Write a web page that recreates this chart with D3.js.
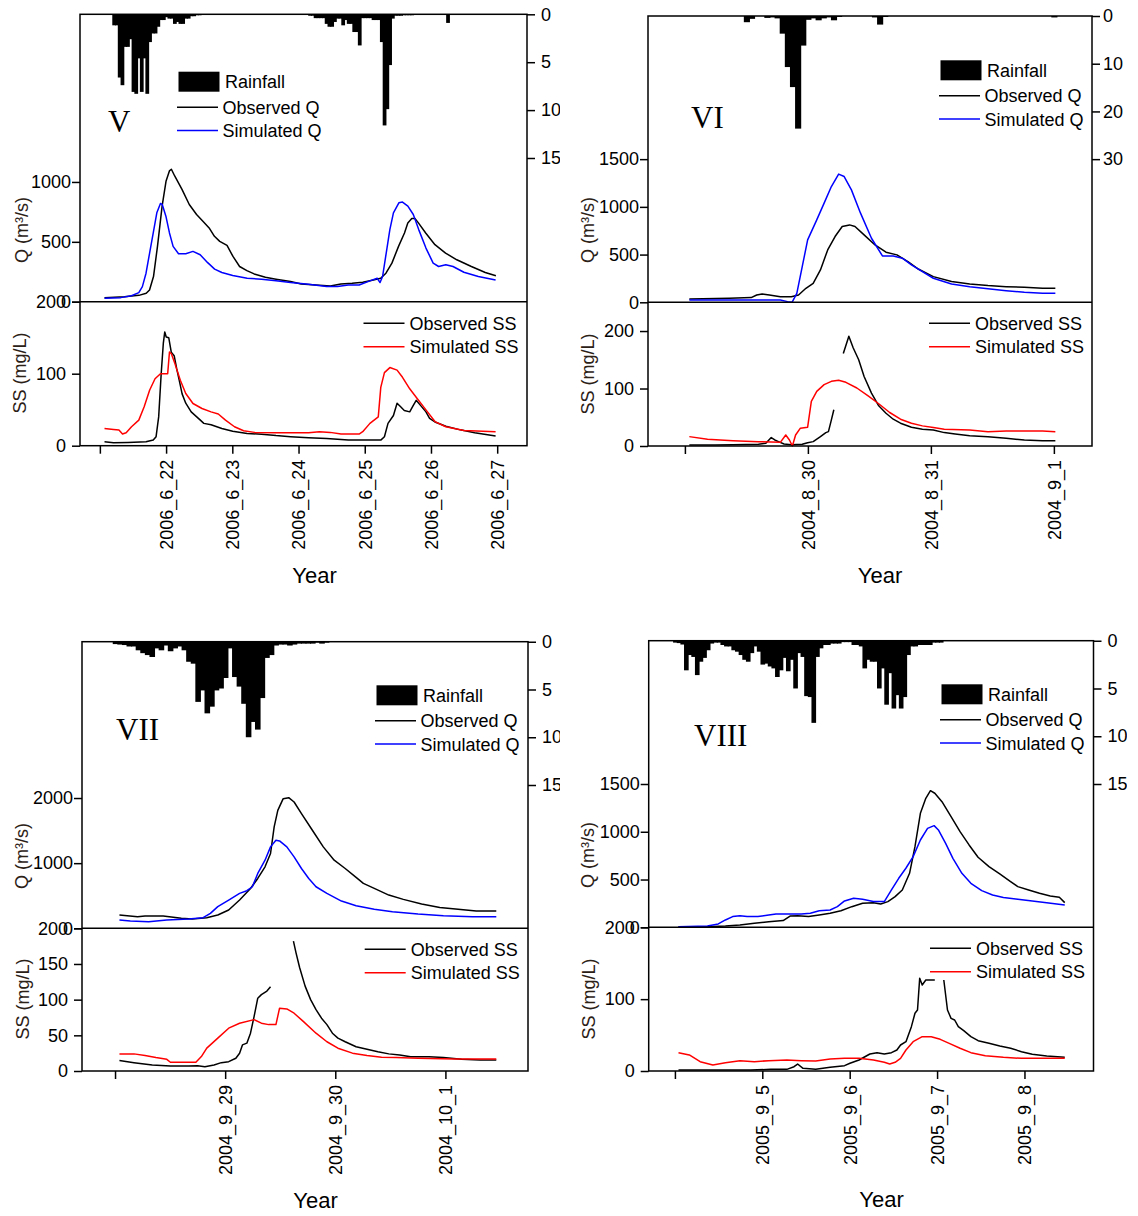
<!DOCTYPE html>
<html>
<head>
<meta charset="utf-8">
<script src="https://cdnjs.cloudflare.com/ajax/libs/d3/7.8.5/d3.min.js"></script>
<style>
  html, body { margin: 0; padding: 0; background: #fff; }
  svg { display: block; }
</style>
</head>
<body>
<svg id="chart" width="1138" height="1216"></svg>
<script>
// ---------------- Event V : June 2006 ----------------
// x values are days after the first (unlabelled) date tick
const datesV = ["", "2006_6_22", "2006_6_23", "2006_6_24", "2006_6_25", "2006_6_26", "2006_6_27"];
const qTicksV = [0, 500, 1000];
const rainTicksV = [0, 5, 10, 15];
const ssTicksV = [0, 100, 200];
// hourly rainfall (mm), runs of consecutive hours
const rainV = [
  { from: 5, mm: [1.15, 1.15, 6.6, 7.4, 3.4, 3.4, 2.6, 8.1, 8.3, 4.6, 8.1, 4.6, 8.3, 2.9, 2.0, 2.0, 1.3, 0.6, 0.6, 0.3, 0.45, 0.45, 1.0, 0.8, 1.0, 1.0, 0.45, 0.45, 0.2, 0.2, 0.1, 0.1] },
  { from: 76, mm: [0.15, 0.15, 0.4, 0.4, 0.4, 0.4, 1.0, 1.3, 1.3, 0.8, 0.45, 0.45, 1.15, 0.6, 1.0, 1.0, 1.85, 1.85, 3.25, 0.4, 0.4, 0.4, 0.4, 0.6, 0.6, 0.6, 2.9, 11.6, 9.9, 5.3, 0.45, 0.15, 0.15, 0.15, 0.1, 0.1, 0.1, 0.1] },
  { from: 126, mm: [0.9] }
];
const obsQV = [[0.07,34],[0.37,42],[0.59,53],[0.70,70],[0.75,98],[0.81,210],[0.87,462],[0.94,798],[1.00,1008],[1.05,1092],[1.08,1106],[1.13,1050],[1.24,938],[1.35,812],[1.46,728],[1.57,664],[1.65,616],[1.73,546],[1.81,504],[1.92,470],[2.01,378],[2.11,294],[2.22,260],[2.33,232],[2.50,204],[2.66,188],[2.88,168],[3.04,148],[3.26,140],[3.48,132],[3.64,148],[3.81,154],[3.97,162],[4.13,182],[4.24,196],[4.32,238],[4.41,322],[4.51,462],[4.60,574],[4.65,658],[4.71,694],[4.76,694],[4.81,658],[4.92,574],[5.06,476],[5.22,406],[5.39,350],[5.61,294],[5.82,244],[5.98,216]];
const simQV = [[0.07,28],[0.315,34],[0.478,50],[0.588,76],[0.642,126],[0.697,238],[0.751,406],[0.806,574],[0.860,742],[0.915,820],[0.942,812],[0.997,714],[1.051,574],[1.106,462],[1.188,400],[1.297,400],[1.406,420],[1.515,392],[1.624,328],[1.733,272],[1.842,244],[2.006,218],[2.224,196],[2.442,188],[2.660,174],[2.879,160],[3.151,146],[3.424,126],[3.588,126],[3.751,140],[3.915,140],[4.078,174],[4.188,196],[4.231,160],[4.269,210],[4.324,406],[4.379,602],[4.433,742],[4.515,826],[4.570,832],[4.651,798],[4.733,728],[4.815,602],[4.924,448],[5.033,322],[5.115,294],[5.224,308],[5.333,294],[5.497,246],[5.715,210],[5.976,182]];
const obsSSV = [[0.07,5.5],[0.206,4.2],[0.424,4.6],[0.697,5.5],[0.806,7.8],[0.849,12.5],[0.888,40],[0.926,100],[0.958,142],[0.980,158],[1.002,151],[1.040,150],[1.078,130],[1.122,125],[1.160,107],[1.198,91],[1.242,72],[1.297,59],[1.379,47],[1.488,38],[1.570,31],[1.679,29],[1.842,24],[2.006,20],[2.224,17],[2.442,16],[2.660,14],[2.879,12.5],[3.151,11],[3.424,10],[3.751,7.8],[3.969,7.8],[4.242,7.8],[4.297,12.5],[4.351,31],[4.433,42],[4.488,59],[4.542,54],[4.597,49],[4.679,47],[4.733,56],[4.777,63],[4.842,56],[4.924,47],[4.979,38],[5.060,33],[5.224,27],[5.442,22],[5.660,18],[5.976,13.4]];
const simSSV = [[0.07,24],[0.206,22.6],[0.288,21.7],[0.342,16.2],[0.397,18],[0.478,26.3],[0.588,35.5],[0.669,54],[0.751,77],[0.833,93],[0.915,100],[0.997,100],[1.024,100],[1.051,130],[1.078,128],[1.133,114],[1.215,91],[1.297,72.5],[1.406,58.6],[1.542,51.7],[1.679,47],[1.788,44],[1.897,35.5],[2.033,26.3],[2.170,20.8],[2.333,18.5],[2.660,18],[3.151,18],[3.315,19.4],[3.478,18.5],[3.642,16.2],[3.915,16.2],[3.969,19.4],[4.078,31],[4.204,40],[4.242,81],[4.297,101.5],[4.379,108.5],[4.488,105],[4.570,95],[4.679,79],[4.788,66],[4.924,49.8],[5.060,33.5],[5.224,26.3],[5.497,21],[5.976,19.4]];

// ---------------- Event VI : August 2004 ----------------
const datesVI = ["", "2004_8_30", "2004_8_31", "2004_9_1"];
const qTicksVI = [0, 500, 1000, 1500];
const rainTicksVI = [0, 10, 20, 30];
const ssTicksVI = [0, 100, 200];
const rainVI = [
  { from: 12, mm: [1.3, 0.6, 0, 0, 0.4, 0.3, 0.5, 3.7, 10.7, 14.9, 23.6, 6.2, 0.8, 0.5, 0.9, 0.5, 0.3, 0.9, 0.2] },
  { from: 37, mm: [0.3, 1.8, 0.2] },
  { from: 72, mm: [0.3] }
];
const obsQVI = [[0.036,35],[0.362,42],[0.539,49],[0.584,77],[0.628,87],[0.687,77],[0.776,59],[0.865,59],[0.924,77],[0.984,147],[1.043,199],[1.102,339],[1.161,549],[1.221,689],[1.279,794],[1.339,811],[1.383,794],[1.457,706],[1.546,601],[1.635,525],[1.724,497],[1.813,427],[1.901,346],[2.020,269],[2.168,217],[2.316,192],[2.464,175],[2.612,164],[2.760,157],[2.908,147],[3.012,147]];
const simQVI = [[0.036,24],[0.539,24],[0.776,24],[0.835,7],[0.871,0],[0.910,94],[0.954,374],[0.998,654],[1.072,864],[1.132,1039],[1.191,1213],[1.250,1343],[1.295,1318],[1.354,1178],[1.428,934],[1.517,671],[1.606,486],[1.694,486],[1.768,462],[1.842,392],[1.931,322],[2.020,252],[2.168,192],[2.316,164],[2.464,143],[2.612,122],[2.760,105],[2.908,94],[3.012,94]];
const obsSSVIa = [[0.036,1.7],[0.243,1.7],[0.391,2.3],[0.598,2.9],[0.658,4.7],[0.702,14.6],[0.731,10.5],[0.761,7.6],[0.806,3.5],[0.865,2.3],[0.954,2.9],[0.998,5.8],[1.043,7.6],[1.102,16.3],[1.146,23.3],[1.167,25],[1.191,45.5],[1.211,63]];
const obsSSVIb = [[1.288,161],[1.333,191],[1.368,171],[1.413,150],[1.457,121],[1.517,92],[1.576,70],[1.635,57],[1.694,46.6],[1.753,39.7],[1.842,32.7],[1.931,29.2],[2.020,28],[2.109,23.3],[2.197,21],[2.316,18],[2.464,16.3],[2.612,13.4],[2.760,10.5],[2.908,9.3],[3.012,9.3]];
const simSSVI = [[0.036,16.3],[0.184,11.7],[0.391,9.3],[0.598,7.6],[0.776,6.4],[0.820,19.2],[0.850,10.5],[0.874,0],[0.900,19.2],[0.939,31],[0.998,32.7],[1.028,77.6],[1.072,95],[1.132,106.7],[1.191,112.5],[1.250,114.3],[1.309,110.8],[1.398,100.9],[1.487,87.5],[1.576,73.5],[1.665,58.3],[1.753,46.6],[1.842,39.7],[1.931,35],[2.020,32],[2.109,29.2],[2.316,28],[2.464,25],[2.612,26.2],[2.760,26.2],[2.908,26.2],[3.012,25]];

// ---------------- Event VII : September 2004 ----------------
const datesVII = ["", "2004_9_29", "2004_9_30", "2004_10_1"];
const qTicksVII = [0, 1000, 2000];
const rainTicksVII = [0, 5, 10, 15];
const ssTicksVII = [0, 50, 100, 150, 200];
const rainVII = [
  { from: 0, mm: [0.25, 0.3, 0.35, 0.5, 0.5, 0.9, 1.2, 1.4, 1.6, 0.7, 0.9, 0.4, 1.0, 0.7, 0.5, 0.9, 2.1, 2.3, 6.3, 5.1, 7.5, 6.8, 5.1, 4.9, 3.8, 0.7, 3.7, 4.7, 6.5, 10.0, 8.4, 9.2, 5.9, 1.7, 1.4, 0.4, 0.3, 0.3, 0.4, 0.3, 0.2, 0.2, 0.2, 0.2, 0.1, 0.2, 0.1] }
];
const obsQVII = [[0.040,204],[0.205,179],[0.272,189],[0.437,189],[0.602,153],[0.701,143],[0.833,163],[0.933,204],[1.032,281],[1.131,434],[1.230,612],[1.296,765],[1.362,944],[1.412,1148],[1.445,1556],[1.478,1811],[1.527,1990],[1.577,2005],[1.626,1939],[1.693,1760],[1.792,1505],[1.891,1250],[1.990,1046],[2.090,918],[2.189,781],[2.255,689],[2.354,612],[2.486,510],[2.618,444],[2.784,372],[2.949,321],[3.115,291],[3.280,265],[3.462,265]];
const simQVII = [[0.040,128],[0.139,112],[0.305,102],[0.470,128],[0.668,143],[0.800,163],[0.866,230],[0.933,332],[1.032,434],[1.131,536],[1.197,577],[1.247,638],[1.296,842],[1.362,1046],[1.412,1250],[1.461,1352],[1.494,1342],[1.560,1250],[1.626,1097],[1.693,918],[1.759,765],[1.825,638],[1.924,536],[2.056,418],[2.189,347],[2.354,291],[2.519,255],[2.751,219],[2.982,194],[3.246,179],[3.462,179]];
const obsSSVIIa = [[0.040,14.6],[0.172,11.7],[0.338,8.5],[0.503,7.0],[0.668,7.0],[0.750,7.5],[0.816,6.1],[0.899,8.5],[0.965,11.7],[1.032,13.1],[1.097,17.8],[1.131,24.9],[1.157,36.6],[1.197,39],[1.230,53],[1.263,76.5],[1.296,102],[1.329,107],[1.379,112],[1.412,118]];
const obsSSVIIb = [[1.620,182],[1.643,166],[1.676,145],[1.726,119],[1.776,100],[1.825,86],[1.875,74],[1.924,65],[1.974,53],[2.024,46],[2.090,41],[2.189,34],[2.288,30.5],[2.387,27],[2.486,24],[2.585,22.5],[2.684,20],[2.850,20],[2.982,18.8],[3.147,16.4],[3.313,15.5],[3.462,15.5]];
const simSSVII = [[0.040,24],[0.172,24],[0.272,21.6],[0.371,18.8],[0.470,16.4],[0.503,12.2],[0.602,12.2],[0.734,12.2],[0.784,20.2],[0.833,32],[0.933,46],[1.032,60],[1.131,67],[1.263,72],[1.329,67],[1.395,65],[1.461,65],[1.494,88],[1.560,87],[1.626,81],[1.709,69.5],[1.825,53],[1.924,41],[2.024,32],[2.156,25],[2.288,21.6],[2.420,19.2],[2.552,18.8],[2.751,17.8],[3.081,16.9],[3.462,16.9]];

// ---------------- Event VIII : September 2005 ----------------
const datesVIII = ["", "2005_9_5", "2005_9_6", "2005_9_7", "2005_9_8"];
const qTicksVIII = [0, 500, 1000, 1500];
const rainTicksVIII = [0, 5, 10, 15];
const ssTicksVIII = [0, 100, 200];
const rainVIII = [
  { from: 0, mm: [0.2, 0.25, 0.4, 3.1, 1.5, 1.7, 3.6, 2.2, 1.8, 1.0, 0.3, 0.2, 0.2, 0.45, 0.6, 0.6, 1.0, 1.15, 1.5, 2.0, 2.2, 1.3, 0.6, 1.15, 2.5, 2.4, 2.7, 2.9, 3.8, 3.1, 1.8, 3.2, 2.0, 5.0, 1.3, 1.7, 5.8, 5.9, 8.6, 1.7, 0.8, 0.45, 0.45, 0.3, 0.3, 0.3, 0.15, 0.15, 0.15, 0.45, 0.45, 0.6, 2.9, 2.0, 2.2, 2.2, 5.0, 2.9, 6.7, 3.4, 7.1, 5.7, 7.1, 5.9, 1.5, 0.6, 0.6, 0.45, 0.45, 0.45, 0.45, 0.2, 0.2, 0.2] }
];
const obsQVIII = [[0.041,7],[0.372,7],[0.578,14],[0.744,24],[0.909,42],[1.074,59],[1.239,70],[1.322,119],[1.404,122],[1.529,112],[1.652,129],[1.776,147],[1.900,174],[2.024,216],[2.148,251],[2.271,258],[2.355,244],[2.437,269],[2.520,321],[2.602,391],[2.685,565],[2.747,844],[2.809,1193],[2.871,1350],[2.924,1430],[2.974,1403],[3.056,1315],[3.160,1158],[3.263,1001],[3.366,862],[3.469,733],[3.594,635],[3.717,558],[3.841,478],[3.924,426],[4.048,391],[4.172,356],[4.295,328],[4.399,314],[4.461,258]];
const simQVIII = [[0.041,7],[0.372,14],[0.496,35],[0.578,77],[0.661,112],[0.744,122],[0.826,112],[0.950,112],[1.074,129],[1.157,140],[1.281,140],[1.446,140],[1.549,147],[1.652,174],[1.776,181],[1.859,216],[1.941,276],[2.045,304],[2.148,293],[2.271,269],[2.396,269],[2.478,391],[2.561,513],[2.643,618],[2.726,740],[2.809,914],[2.891,1036],[2.966,1064],[3.015,1019],[3.098,879],[3.181,722],[3.284,565],[3.387,461],[3.511,384],[3.635,338],[3.759,311],[3.924,293],[4.089,276],[4.254,258],[4.461,234]];
const obsSSVIIIa = [[0.041,1.4],[0.454,1.4],[0.867,1.4],[1.095,2.3],[1.281,2.3],[1.363,6.0],[1.404,9.7],[1.466,3.7],[1.611,2.3],[1.776,5.1],[1.941,7.4],[2.003,10.7],[2.107,15.3],[2.231,23.7],[2.313,25.5],[2.396,23.7],[2.478,25.5],[2.540,29.2],[2.582,36.2],[2.644,40.8],[2.706,61.7],[2.747,80.3],[2.776,84.9],[2.801,129],[2.830,119.7],[2.871,126.7],[2.933,126.7],[2.974,126.7]];
const obsSSVIIIb = [[3.077,126.7],[3.119,84.9],[3.160,73.3],[3.201,71],[3.243,61.7],[3.305,56.1],[3.387,47.8],[3.470,42.2],[3.594,38.5],[3.718,34.8],[3.842,31.6],[3.966,26.9],[4.089,23.2],[4.255,20.9],[4.461,19]];
const simSSVIII = [[0.041,25.5],[0.165,22.3],[0.289,13],[0.434,8.4],[0.578,11.6],[0.744,14.4],[0.909,13],[1.074,14.4],[1.281,15.3],[1.446,14.4],[1.611,13.9],[1.776,16.7],[1.941,17.6],[2.107,17.6],[2.272,15.3],[2.396,12.1],[2.458,9.7],[2.520,12.1],[2.582,17.6],[2.644,29.2],[2.726,40.8],[2.830,47.8],[2.933,47.8],[3.036,44.1],[3.139,38.5],[3.263,31.6],[3.387,25.5],[3.552,21.3],[3.759,19],[3.966,17.6],[4.172,17.6],[4.461,17.6]];

// ---------------- layout of the four event panels ----------------
const panels = [
  { id: "V", label: "V", frame: { l: 80, r: 527, t: 14.3, m: 301.7, b: 445.7 }, days: [-0.3, 6.45],
    dates: datesV, rain: rainV, rainMax: 30, rainTicks: rainTicksV, qMax: 2400, qTicks: qTicksV,
    ssMax: 200, ssTicks: ssTicksV, obsQ: obsQV, simQ: simQV, obsSS: [obsSSV], simSS: simSSV,
    clipR: 560, rPad: 6, legQ: { x: 177, y: 81.7 }, legSS: { x: 363.5, y: 323.3 },
    numeral: { x: 108, y: 131.7 }, qTitle: { x: 22, y: 230 }, ssTitle: { x: 20, y: 373 }, year: { x: 314.5, y: 575 } },
  { id: "VI", label: "VI", frame: { l: 648, r: 1092, t: 16, m: 302.3, b: 446 }, days: [-0.3, 3.31],
    dates: datesVI, rain: rainVI, rainMax: 60, rainTicks: rainTicksVI, qMax: 3000, qTicks: qTicksVI,
    ssMax: 250, ssTicks: ssTicksVI, obsQ: obsQVI, simQ: simQVI, obsSS: [obsSSVIa, obsSSVIb], simSS: simSSVI,
    clipR: 1127, rPad: 3, legQ: { x: 939, y: 70.3 }, legSS: { x: 929, y: 323.3 },
    numeral: { x: 691, y: 128.3 }, qTitle: { x: 588, y: 230 }, ssTitle: { x: 588, y: 374 }, year: { x: 880, y: 575 } },
  { id: "VII", label: "VII", frame: { l: 82, r: 528, t: 641.7, m: 928.3, b: 1071 }, days: [-0.3, 3.75],
    dates: datesVII, rain: rainVII, rainMax: 30, rainTicks: rainTicksVII, qMax: 4400, qTicks: qTicksVII,
    ssMax: 200, ssTicks: ssTicksVII, obsQ: obsQVII, simQ: simQVII, obsSS: [obsSSVIIa, obsSSVIIb], simSS: simSSVII,
    clipR: 560, rPad: 6, legQ: { x: 375, y: 695.3 }, legSS: { x: 364.7, y: 949.3 },
    numeral: { x: 116, y: 740 }, qTitle: { x: 22, y: 856 }, ssTitle: { x: 22.5, y: 999 }, year: { x: 315.5, y: 1200 } },
  { id: "VIII", label: "VIII", frame: { l: 648.7, r: 1093.5, t: 640.7, m: 927.3, b: 1071 }, days: [-0.3, 4.79],
    dates: datesVIII, rain: rainVIII, rainMax: 30, rainTicks: rainTicksVIII, qMax: 3000, qTicks: qTicksVIII,
    ssMax: 200, ssTicks: ssTicksVIII, obsQ: obsQVIII, simQ: simQVIII, obsSS: [obsSSVIIIa, obsSSVIIIb], simSS: simSSVIII,
    clipR: 1127, rPad: 6, legQ: { x: 940, y: 694.3 }, legSS: { x: 930, y: 948.3 },
    numeral: { x: 694, y: 746 }, qTitle: { x: 588, y: 855 }, ssTitle: { x: 589, y: 999 }, year: { x: 881.5, y: 1199 } }
];

const SANS = '"Liberation Sans", Arial, Helvetica, sans-serif';
const SERIF = '"Liberation Serif", "Times New Roman", serif';
const INK = "#000";
const TITLE_INK = "#2b2116";
const BLUE = "#0000ff";
const RED = "#ff0000";
const HOUR = 1 / 24;

const svg = d3.select("#chart");
const defs = svg.append("defs");

function styleAxis(sel) {
  sel.attr("font-family", null).attr("font-size", null);
  sel.select(".domain").remove();
  sel.selectAll(".tick line").attr("stroke", INK).attr("stroke-width", 1.5);
  sel.selectAll(".tick text").attr("font-family", SANS).attr("font-size", 18).attr("fill", INK);
}

function drawPanel(p) {
  const f = p.frame;
  const g = svg.append("g").attr("class", "panel-" + p.id);

  const x = d3.scaleLinear().domain(p.days).range([f.l, f.r]);
  const yRain = d3.scaleLinear().domain([0, p.rainMax]).range([f.t, f.m]);
  const yQ = d3.scaleLinear().domain([0, p.qMax]).range([f.m, f.t]);
  const ySS = d3.scaleLinear().domain([0, p.ssMax]).range([f.b, f.m]);

  // hyetograph: one column per hour, hanging from the top edge;
  // each column overlaps its neighbour slightly so no seams show
  const bars = p.rain.flatMap(run => run.mm.map((v, i) => ({ h: run.from + i, v })))
                     .filter(d => d.v > 0);
  g.append("g").selectAll("rect").data(bars).join("rect")
    .attr("x", d => x((d.h - 0.5) * HOUR))
    .attr("y", yRain(0))
    .attr("width", d => x((d.h + 0.5) * HOUR) - x((d.h - 0.5) * HOUR) + 1)
    .attr("height", d => yRain(d.v) - yRain(0))
    .attr("fill", INK);

  // discharge and sediment series
  const lineQ = d3.line().x(d => x(d[0])).y(d => yQ(d[1]));
  const lineSS = d3.line().x(d => x(d[0])).y(d => ySS(d[1]));
  const series = (data, gen, color) => g.append("path")
    .attr("d", gen(data)).attr("fill", "none").attr("stroke", color)
    .attr("stroke-width", 1.5).attr("stroke-linejoin", "round");
  series(p.obsQ, lineQ, INK);
  series(p.simQ, lineQ, BLUE);
  p.obsSS.forEach(seg => series(seg, lineSS, INK));
  series(p.simSS, lineSS, RED);

  // frame and the divider between the Q and SS parts
  g.append("rect").attr("x", f.l).attr("y", f.t).attr("width", f.r - f.l).attr("height", f.b - f.t)
    .attr("fill", "none").attr("stroke", INK).attr("stroke-width", 1.5);
  g.append("line").attr("x1", f.l).attr("x2", f.r).attr("y1", f.m).attr("y2", f.m)
    .attr("stroke", INK).attr("stroke-width", 1.5);

  // left axes: Q on top, SS below
  g.append("g").attr("transform", `translate(${f.l},0)`)
    .call(d3.axisLeft(yQ).tickValues(p.qTicks).tickSize(8).tickPadding(1).tickFormat(d3.format("d")))
    .call(styleAxis);
  g.append("g").attr("transform", `translate(${f.l},0)`)
    .call(d3.axisLeft(ySS).tickValues(p.ssTicks).tickSize(8).tickPadding(6).tickFormat(d3.format("d")))
    .call(styleAxis);

  // right axis: rainfall (labels cut at the panel edge)
  const clipId = "clip-" + p.id;
  defs.append("clipPath").attr("id", clipId).append("rect")
    .attr("x", f.r - 5).attr("y", f.t - 20).attr("width", p.clipR - f.r + 5).attr("height", f.m - f.t + 40);
  g.append("g").attr("clip-path", `url(#${clipId})`)
    .append("g").attr("transform", `translate(${f.r},0)`)
    .call(d3.axisRight(yRain).tickValues(p.rainTicks).tickSize(8).tickPadding(p.rPad).tickFormat(d3.format("d")))
    .call(styleAxis);

  // bottom axis: dates, written upwards
  g.append("g").attr("transform", `translate(0,${f.b})`)
    .call(d3.axisBottom(x).tickValues(p.dates.map((_, i) => i)).tickSize(8).tickFormat(i => p.dates[i]))
    .call(styleAxis)
    .selectAll(".tick text")
    .attr("transform", "rotate(-90)")
    .attr("x", -14).attr("y", 0).attr("dy", "0.35em")
    .attr("text-anchor", "end");

  // axis titles
  const vTitle = (pos, txt) => g.append("text")
    .attr("transform", `translate(${pos.x},${pos.y}) rotate(-90)`)
    .attr("text-anchor", "middle").attr("dy", "0.35em")
    .attr("font-family", SANS).attr("font-size", 18).attr("fill", TITLE_INK).text(txt);
  vTitle(p.qTitle, "Q (m³/s)");
  vTitle(p.ssTitle, "SS (mg/L)");
  g.append("text").attr("x", p.year.x).attr("y", p.year.y).attr("dy", "0.35em")
    .attr("text-anchor", "middle").attr("font-family", SANS).attr("font-size", 22).attr("fill", INK)
    .text("Year");

  // event numeral
  g.append("text").attr("x", p.numeral.x).attr("y", p.numeral.y)
    .attr("font-family", SERIF).attr("font-size", 31).attr("fill", INK).text(p.label);

  // legend for rainfall and discharge
  const lq = p.legQ;
  const legText = (xx, yy, txt) => g.append("text").attr("x", xx).attr("y", yy).attr("dy", "0.36em")
    .attr("font-family", SANS).attr("font-size", 18).attr("fill", INK).text(txt);
  const legLine = (xx, yy, color) => g.append("line").attr("x1", xx).attr("x2", xx + 41)
    .attr("y1", yy).attr("y2", yy).attr("stroke", color).attr("stroke-width", 1.5);
  g.append("rect").attr("x", lq.x + 1.5).attr("y", lq.y - 10).attr("width", 41).attr("height", 20).attr("fill", INK);
  legText(lq.x + 48, lq.y, "Rainfall");
  legLine(lq.x, lq.y + 25.5, INK);
  legText(lq.x + 45.5, lq.y + 25.5, "Observed Q");
  legLine(lq.x, lq.y + 48.8, BLUE);
  legText(lq.x + 45.5, lq.y + 48.8, "Simulated Q");

  // legend for sediment
  const ls = p.legSS;
  legLine(ls.x, ls.y, INK);
  legText(ls.x + 46, ls.y, "Observed SS");
  legLine(ls.x, ls.y + 23.5, RED);
  legText(ls.x + 46, ls.y + 23.5, "Simulated SS");
}

panels.forEach(drawPanel);
</script>
</body>
</html>
